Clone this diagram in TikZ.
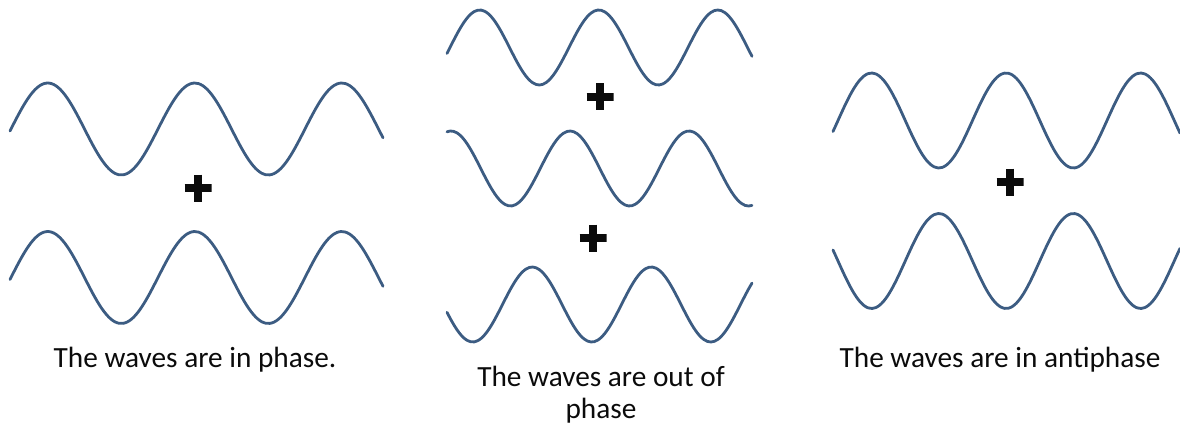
\documentclass[tikz,border=0pt]{standalone}
\usepackage{fontspec}
\setmainfont{Carlito}
\usepackage{tikz}
\usetikzlibrary{positioning}
\definecolor{azulonda}{HTML}{3C5C82}
\definecolor{tinta}{HTML}{0B0B0B}

\begin{document}
\begin{tikzpicture}[
  x=1pt, y=-1pt,
  onda/.style={azulonda, line width=2.8pt, line cap=round},
  signo/.style={minimum size=27pt, inner sep=0pt, path picture={
      \draw[tinta, line width=7.5pt]
        (path picture bounding box.west) -- (path picture bounding box.east)
        (path picture bounding box.north) -- (path picture bounding box.south);}},
  rotulo/.style={anchor=base, align=center, text=tinta, font=\fontsize{29.3}{32}\selectfont}]
  \useasboundingbox (0,0) rectangle (1180,425);
  % ondas: inicio/fin/periodo/amplitud/centro/fase
  \foreach \ini/\fin/\per/\amp/\yc/\fase in {
      10/383/147/46/129/11, 10/383/147/46/277.5/11,
      447/752/119/37.5/47.5/450, 447/752/119/37.5/168.5/421.25, 447/752/119/37.5/304.5/383.5,
      833/1180/134.5/47.5/120.5/838, 833/1180/134.5/47.5/261/770.75}
    \draw[onda] plot[domain=\ini:\fin, variable=\t, samples=90, smooth]
      (\t, {\yc-\amp*sin(360*((\t-\fase)/\per))});
  \node[signo] (mas1) at (198,188) {};
  \node[signo] (mas2) at (600,97) {};
  \node[signo] (mas3) at (593,238) {};
  \node[signo] (mas4) at (1010,182) {};
  \node[rotulo] (enfase) at (195,367) {The waves are in phase.};
  \node[rotulo] (desfase) at (601,418) {The waves are out of\\phase};
  \node[rotulo] (antifase) at (1000,367) {The waves are in antiphase};
\end{tikzpicture}
\end{document}
